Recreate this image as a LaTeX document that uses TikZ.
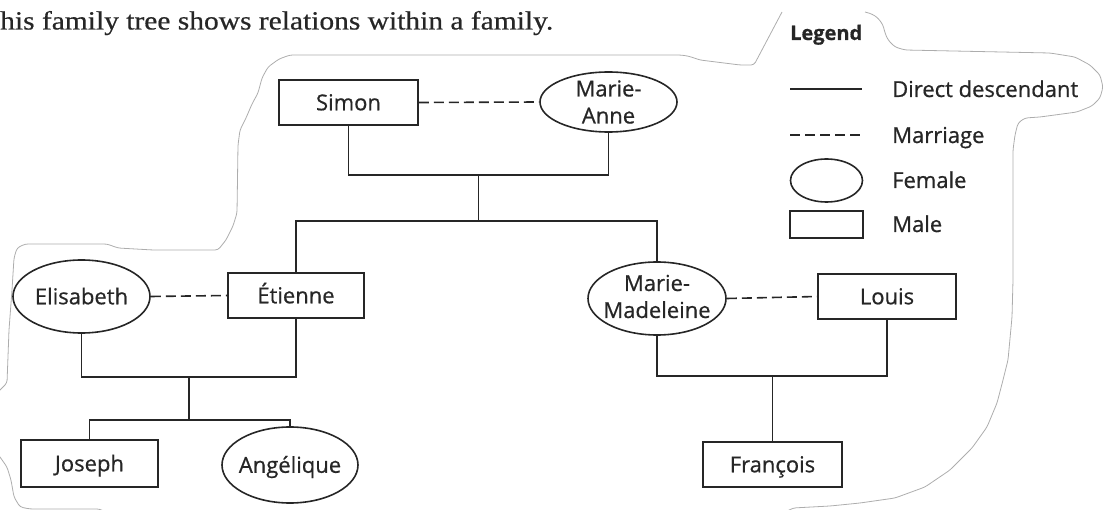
\documentclass[tikz,border=0pt]{standalone}
\usepackage{fontspec}
\setmainfont{Open Sans}[FakeBold=0.7]
\newfontfamily\plainfont{Open Sans}[FakeBold=0.7]
\newfontfamily\serifont{Liberation Serif}[FakeBold=0.5]
\usetikzlibrary{shapes.geometric}
\begin{document}
\begin{tikzpicture}[x=1pt,y=-1pt,
  ln/.style={draw=black!85, line width=1.6pt},
  male/.style={rectangle, ln, minimum width=138pt, minimum height=45pt, inner sep=0pt,
    font=\plainfont\fontsize{22}{27}\selectfont, text=black!85, text height=15.6pt, text depth=0pt},
  female/.style={ellipse, ln, minimum width=137pt, minimum height=74pt, inner sep=0pt},
  ftext/.style={font=\plainfont\fontsize{22}{27}\selectfont, text=black!85, align=center, inner sep=0pt},
  fone/.style={font=\plainfont\fontsize{22}{27}\selectfont, text=black!85, inner sep=0pt, text height=15.6pt, text depth=0pt},
  kin/.style={draw=black!85, line width=1.6pt},
  wed/.style={draw=black!85, line width=1.6pt, dash pattern=on 10pt off 5pt},
  rim/.style={draw=black!32, line width=0.8pt, rounded corners=3pt},
  lt/.style={font=\plainfont\fontsize{22}{27}\selectfont, text=black!85, anchor=base west, inner sep=0pt}
]
\useasboundingbox (0,0) rectangle (1103,510);

% cut-out outline
\begin{scope}
\clip (0,0) rectangle (1103,510);
\draw[rim] (782,12) -- (754,65) -- (740,65) -- (700,60) -- (688,56) -- (680,55) -- (300,55)
  -- (290,55) -- (279,59) -- (268,67) -- (262,78) -- (258,93) -- (252,104) -- (246,118)
  -- (240,130) -- (238,145) -- (237,213) -- (233,226) -- (226,240) -- (218,250) -- (153,250)
  -- (118,248) -- (107,244) -- (25,244) -- (17,248) -- (14,258) -- (12,290) -- (9,330)
  -- (7,383) -- (-5,395);
\draw[rim] (-5,450) -- (0,457) -- (7,467) -- (11,480) -- (14,497) -- (20,507) -- (30,509)
  -- (100,509) -- (110,515);
\draw[rim] (780,515) -- (793,508) -- (830,506) -- (860,503) -- (895,498) -- (925,487)
  -- (950,470) -- (972,448) -- (987,427) -- (997,403) -- (1003,380) -- (1008,360)
  -- (1012,317) -- (1013,280) -- (1013,150) -- (1015,135) -- (1018,123) -- (1025,118)
  -- (1040,117) -- (1077,112) -- (1092,106) -- (1100,98) -- (1103,87) -- (1100,75)
  -- (1090,65) -- (1075,57) -- (1050,53) -- (905,50) -- (895,47) -- (888,40) -- (885,33)
  -- (883,25) -- (878,18) -- (872,14) -- (865,12);
\end{scope}

% title line
\node[anchor=base west, inner sep=0pt, text=black!85] (title) at (0,29.5)
  {\resizebox{553pt}{18.5pt}{\serifont\fontsize{24}{28}\selectfont his family tree shows relations within a family.}};

% people
\node[male, minimum width=139pt] (simon) at (348.5,102.5) {Simon};
\node[female, minimum width=137pt, minimum height=60pt,
  label={[ftext]center:Marie-\\Anne}] (marieanne) at (608.5,102) {};
\node[female, minimum width=137pt, minimum height=73pt,
  label={[fone]center:Elisabeth}] (elisabeth) at (81.5,296.5) {};
\node[male, minimum width=136pt] (etienne) at (296,295.5) {Étienne};
\node[female, minimum width=138pt, minimum height=73pt,
  label={[ftext, yshift=2pt]center:Marie-\\Madeleine}] (mm) at (657,298.5) {};
\node[male, minimum width=138pt] (louis) at (887,296.5) {Louis};
\node[male, minimum width=137pt, minimum height=47pt] (joseph) at (89.5,463.5) {Joseph};
\node[female, minimum width=136pt, minimum height=76pt,
  label={[fone]center:Angélique}] (angelique) at (290,465) {};
\node[male, minimum width=139pt] (francois) at (772.5,464.5) {François};

% junctions
\coordinate (j1) at (478.5,175);
\coordinate (j2) at (478.5,221);
\coordinate (j3) at (189,377);
\coordinate (j4) at (189,420);
\coordinate (j5) at (772.5,376);

% descent
\draw[kin] (simon.south) |- (j1) -| (marieanne.south);
\draw[kin] (j1) -- (j2);
\draw[kin] (etienne.north) |- (j2) -| (mm.north);
\draw[kin] (elisabeth.south) |- (j3) -| (etienne.south);
\draw[kin] (j3) -- (j4);
\draw[kin] (joseph.north) |- (j4) -| (angelique.north);
\draw[kin] (mm.south) |- (j5) -| (louis.south);
\draw[kin] (j5) -- (francois.north);

% marriages
\draw[wed] (simon.east) -- (marieanne.west);
\draw[wed] (elisabeth.east) -- (etienne.west);
\draw[wed] (mm.east) -- (louis.west);

% legend
\node[font=\bfseries\fontsize{20}{23}\selectfont, text=black!85, anchor=base west, inner sep=0pt] (legend) at (790,40) {Legend};
\coordinate (l1a) at (790,89);
\coordinate (l1b) at (862,89);
\coordinate (l2a) at (790,135);
\coordinate (l2b) at (862,135);
\draw[kin] (l1a) -- (l1b);
\draw[wed] (l2a) -- (l2b);
\node[female, minimum width=72pt, minimum height=43pt] (lfem) at (826.5,180.5) {};
\node[rectangle, ln, minimum width=73pt, minimum height=27pt, inner sep=0pt] (lmale) at (826.5,224.5) {};
\node[lt] (ldesc) at (892,97) {Direct descendant};
\node[lt] (lmar) at (892,143) {Marriage};
\node[lt] (lfemt) at (892,188) {Female};
\node[lt] (lmalet) at (892,232) {Male};
\end{tikzpicture}
\end{document}
